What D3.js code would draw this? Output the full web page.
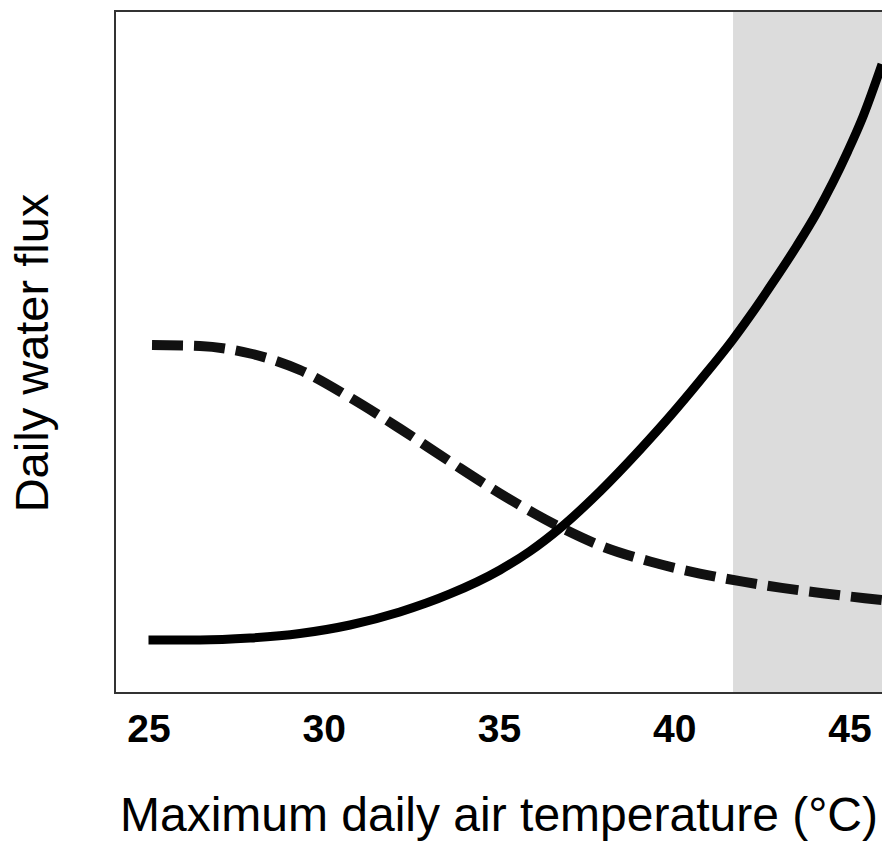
<!DOCTYPE html>
<html>
<head>
<meta charset="utf-8">
<script src="https://cdn.jsdelivr.net/npm/d3@7"></script>
<style>
  html, body { margin: 0; padding: 0; background: #fff; }
  svg { display: block; }
</style>
</head>
<body>
<svg id="chart" width="882" height="847"></svg>
<script>
// ---- data ----
const tickTemps = [25, 30, 35, 40, 45];
const shadeStart = 41.68; // start of grey band (°C)

// solid line: temperature vs flux (arbitrary units 0-100)
const solidTemp = [25.0, 26.47, 27.9, 29.32, 30.75, 32.17, 33.6, 35.03, 35.88, 36.74, 37.88, 39.02, 39.88, 40.73, 41.68, 42.16, 42.82, 43.5, 44.07, 44.53, 44.96, 45.39, 45.93];
const solidFlux = [7.77, 7.77, 8.06, 8.72, 9.97, 11.88, 14.52, 18.04, 20.76, 24.15, 29.55, 35.65, 40.57, 45.76, 51.85, 55.25, 60.21, 65.56, 70.42, 74.88, 79.5, 84.56, 92.21];

// dashed line
const dashTemp = [25.1, 26.47, 27.9, 29.32, 30.75, 32.17, 33.6, 35.03, 36.74, 37.88, 39.31, 40.73, 41.96, 43.07, 44.24, 45.44, 45.93];
const dashFlux = [51.03, 50.88, 49.78, 47.36, 43.33, 38.78, 33.94, 29.25, 24.33, 21.63, 19.28, 17.52, 16.32, 15.41, 14.63, 13.9, 13.62];

const xTitle = "Maximum daily air temperature (°C)";
const yTitle = "Daily water flux";

// ---- drawing ----
const svg = d3.select("#chart");
const mLeft = 115, mRight = 882, mTop = 11, mBottom = 693;

const x = d3.scaleLinear().domain([24.044, 45.93]).range([mLeft, mRight]);
const y = d3.scaleLinear().domain([0, 100]).range([mBottom, mTop]);

const font = "'Liberation Sans', Arial, Helvetica, sans-serif";

// grey band
svg.append("rect")
  .attr("x", x(shadeStart))
  .attr("y", mTop + 1)
  .attr("width", mRight - x(shadeStart))
  .attr("height", mBottom - mTop - 1)
  .attr("fill", "#dcdcdc");

const line = d3.line()
  .x(d => x(d[0]))
  .y(d => y(d[1]))
  .curve(d3.curveMonotoneX);

const solid = solidTemp.map((t, i) => [t, solidFlux[i]]);
const dashed = dashTemp.map((t, i) => [t, dashFlux[i]]);

svg.append("clipPath").attr("id", "clip")
  .append("rect").attr("x", mLeft).attr("y", mTop).attr("width", mRight - mLeft).attr("height", mBottom - mTop);

const g = svg.append("g").attr("clip-path", "url(#clip)");

g.append("path")
  .attr("d", line(dashed))
  .attr("fill", "none")
  .attr("stroke", "#111")
  .attr("stroke-width", 10)
  .attr("stroke-dasharray", "31,11");

g.append("path")
  .attr("d", line(solid))
  .attr("fill", "none")
  .attr("stroke", "#000")
  .attr("stroke-width", 9);

// frame (left, top, bottom)
svg.append("path")
  .attr("d", `M${mRight},${mTop}H${mLeft}V${mBottom}H${mRight}`)
  .attr("fill", "none")
  .attr("stroke", "#333")
  .attr("stroke-width", 2);

// x axis tick labels
const xAxis = d3.axisBottom(x).tickValues(tickTemps).tickSize(0).tickPadding(0).tickFormat(d3.format("d"));
const ax = svg.append("g").attr("transform", `translate(0,${mBottom})`).call(xAxis);
ax.select(".domain").remove();
ax.selectAll("text")
  .attr("y", 49)
  .attr("dy", null)
  .attr("fill", "#000")
  .style("font-family", font)
  .style("font-weight", "bold")
  .style("font-size", "39px");

// axis titles
svg.append("text")
  .attr("x", 499)
  .attr("y", 831)
  .attr("text-anchor", "middle")
  .attr("fill", "#000")
  .style("font-family", font)
  .style("font-size", "48px")
  .text(xTitle);

svg.append("text")
  .attr("transform", "translate(48,353) rotate(-90)")
  .attr("text-anchor", "middle")
  .attr("fill", "#000")
  .style("font-family", font)
  .style("font-size", "47px")
  .text(yTitle);
</script>
</body>
</html>
